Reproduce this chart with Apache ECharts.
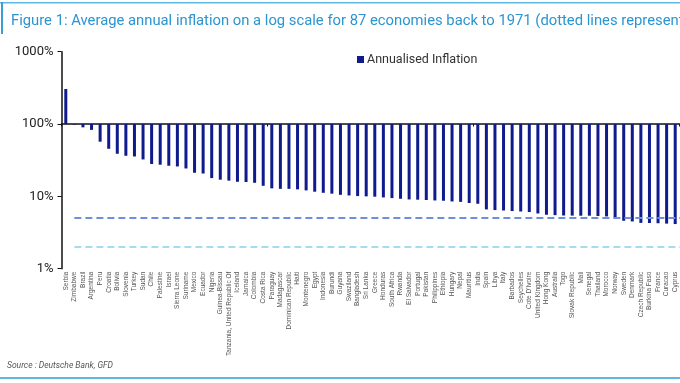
<!DOCTYPE html>
<html><head><meta charset="utf-8">
<script src="https://cdn.jsdelivr.net/npm/echarts@6/dist/echarts.min.js"></script>
<style>html,body{margin:0;padding:0;background:#fff}#c{width:680px;height:383px}</style>
</head><body><div id="c"></div>
<script>
const countries = ["Serbia","Zimbabwe","Brazil","Argentina","Peru","Croatia","Bolivia","Slovenia","Turkey","Sudan","Chile","Palestine","Israel","Sierra Leone","Suriname","Mexico","Ecuador","Nigeria","Guinea-Bissau","Tanzania, United Republic Of","Iceland","Jamaica","Colombia","Costa Rica","Paraguay","Madagascar","Dominican Republic","Haiti","Montenegro","Egypt","Indonesia","Burundi","Guyana","Swaziland","Bangladesh","Sri Lanka","Greece","Honduras","South Africa","Rwanda","El Salvador","Portugal","Pakistan","Philippines","Ethiopia","Hungary","Nepal","Mauritius","India","Spain","Libya","Italy","Barbados","Seychelles","Cote D'Ivoire","United Kingdom","Hong Kong","Australia","Togo","Slovak Republic","Mali","Senegal","Thailand","Morocco","Norway","Sweden","Denmark","Czech Republic","Burkina Faso","France","Curacao","Cyprus"];
const inflation = [305,98,90,83,57,45.5,38.8,36.4,35.6,32.4,28,27.4,26.5,25.9,24.3,21.2,20.7,17.9,17.0,16.5,15.9,15.8,15.4,14.0,12.9,12.7,12.7,12.5,12.1,11.6,11.2,10.9,10.5,10.3,10.1,10.0,9.9,9.67,9.46,9.26,9.07,9.0,8.9,8.78,8.7,8.5,8.4,8.1,7.9,6.6,6.46,6.38,6.26,6.18,6.07,5.8,5.57,5.5,5.44,5.42,5.4,5.4,5.35,5.28,5.0,4.6,4.5,4.3,4.28,4.25,4.2,4.14];
const refUpper = 5;
const refLower = 2;

const chart = echarts.init(document.getElementById('c'), null, {renderer:'canvas'});
chart.setOption({
  animation:false,
  title:{text:'Figure 1: Average annual inflation on a log scale for 87 economies back to 1971 (dotted lines represent 5% and 2% inflation)',
    left:6, top:8.5, textStyle:{fontFamily:'Roboto', fontSize:14.8, fontWeight:'normal', color:'#2b95d0'}},
  graphic:[
    {type:'rect', shape:{x:0,y:2,width:680,height:1.5}, style:{fill:'#5db8e2'}},
    {type:'rect', shape:{x:1,y:2,width:2,height:32}, style:{fill:'#3a9fd6'}},
    {type:'rect', shape:{x:0,y:377,width:680,height:2}, style:{fill:'#5db8e2'}},
    {type:'text', left:7, top:361, style:{text:'Source : Deutsche Bank, GFD', font:'italic 8.5px Roboto', fill:'#555'}}
  ],
  legend:{left:352, top:48, itemWidth:7, itemHeight:7, itemGap:4,
    textStyle:{fontFamily:'Roboto', fontSize:12.5, color:'#333', padding:[0,0,0,-2]},
    data:[{name:'Annualised Inflation', icon:'rect'}]},
  grid:{left:61.5, right:0.5, top:51.7, bottom:114.3, containLabel:false},
  xAxis:[
    {type:'category', data:countries, gridIndex:0, position:'bottom',
     axisLine:{show:false}, axisTick:{show:false},
     axisLabel:{interval:0, rotate:90, fontSize:6.5, fontFamily:'Liberation Sans', color:'#555', margin:3}},
    {type:'category', data:countries, gridIndex:0, position:'bottom', offset:-144.7,
     axisLine:{show:true, lineStyle:{color:'#111', width:1.5}},
     axisTick:{show:true, length:2.5, lineStyle:{color:'#111', width:1}},
     axisLabel:{show:false}}
  ],
  yAxis:{type:'log', logBase:10, min:1, max:1000, startValue:100,
    axisLine:{show:true, lineStyle:{color:'#111', width:1.5}},
    axisTick:{show:true, length:4, lineStyle:{color:'#111'}},
    minorTick:{show:false}, splitLine:{show:false},
    axisLabel:{formatter:v=>v+'%', fontFamily:'Roboto', fontSize:13, color:'#222', margin:8}},
  series:[{
    name:'Annualised Inflation', type:'bar', data:inflation, barWidth:3,
    itemStyle:{color:'#0f1b8c'},
    markLine:{silent:true, symbol:'none', label:{show:false},
      data:[
        [{coord:[0.8,refUpper]},{x:680,yAxis:refUpper}],
        [{coord:[0.8,refLower]},{x:680,yAxis:refLower}]
      ].map((d,i)=>{const c=i===0?'#6f8fdb':'#a7dcf0'; d[0].lineStyle={color:c,width:2.2,type:[7,4]}; return d;})}
  }]
});
</script></body></html>
